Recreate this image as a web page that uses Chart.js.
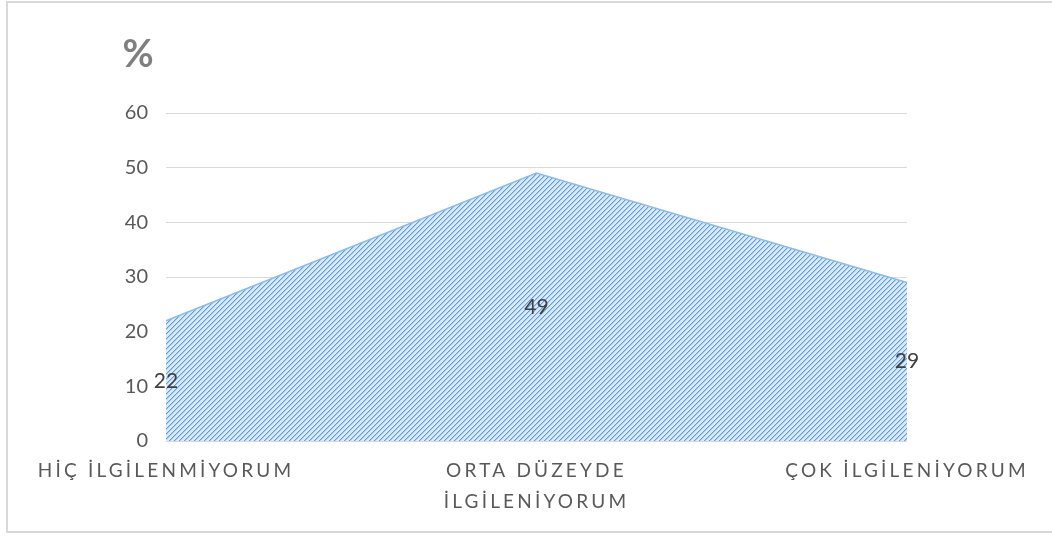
<!DOCTYPE html>
<html>
<head>
<meta charset="utf-8">
<script src="https://cdn.jsdelivr.net/npm/chart.js@4/dist/chart.umd.min.js"></script>
<style>
  html, body { margin: 0; padding: 0; width: 1052px; height: 536px; overflow: hidden; background: #ffffff; }
  #frame { position: absolute; left: 6px; top: 1px; width: 1070px; height: 532px; border: 2px solid #d9d9d9; box-sizing: border-box; background: #fff; }
  #wrap { position: absolute; left: 0; top: 0; width: 1052px; height: 536px; }
</style>
</head>
<body>
<div id="frame"></div>
<div id="wrap"><canvas id="c" width="1052" height="536"></canvas></div>
<script>
// ---- data ----
const categories = ["HİÇ İLGİLENMİYORUM", ["ORTA DÜZEYDE", "İLGİLENİYORUM"], "ÇOK İLGİLENİYORUM"];
const values = [22, 49, 29];
const yTicks = [0, 10, 20, 30, 40, 50, 60];
const axisTitle = "%";

// ---- category scale with letter spacing ----
class SpacedCategory extends Chart.CategoryScale {
  drawLabels(area) {
    const ctx = this.ctx;
    ctx.save();
    ctx.letterSpacing = '3.2px';
    super.drawLabels(area);
    ctx.restore();
  }
}
SpacedCategory.id = 'spacedCategory';
SpacedCategory.defaults = {};
Chart.register(SpacedCategory);

// ---- hatch pattern ----
function makePattern() {
  const s = 5;
  const c = document.createElement('canvas');
  c.width = s; c.height = s;
  const g = c.getContext('2d');
  g.fillStyle = '#d9e9f9';
  g.fillRect(0, 0, s, s);
  for (let i = 0; i < s; i++) {
    g.fillStyle = '#5d9ddf';
    g.fillRect(i, s - 1 - i, 1, 1);
    g.fillStyle = '#a8cbef';
    g.fillRect((i + 1) % s, s - 1 - i, 1, 1);
  }
  return g.createPattern(c, 'repeat');
}
const ctx = document.getElementById('c').getContext('2d');
const pattern = makePattern();

const FONT = "Lato, 'Open Sans', sans-serif";

const overlay = {
  id: 'overlay',
  afterDatasetsDraw(chart) {
    const { ctx, scales } = chart;
    const x = scales.x, y = scales.y;
    ctx.save();
    ctx.font = "21px " + FONT;
    ctx.fillStyle = '#404040';
    ctx.textAlign = 'center';
    ctx.textBaseline = 'middle';
    values.forEach((v, i) => {
      ctx.fillText(String(v), x.getPixelForValue(i), y.getPixelForValue(v / 2));
    });
    ctx.restore();
  },
  afterDraw(chart) {
    const { ctx, chartArea } = chart;
    ctx.save();
    ctx.font = "bold 38px " + FONT;
    ctx.fillStyle = '#7f7f7f';
    ctx.textAlign = 'center';
    ctx.textBaseline = 'middle';
    ctx.fillText(axisTitle, chartArea.left - 28, chartArea.top - 58);
    ctx.restore();
  }
};

new Chart(ctx, {
  type: 'line',
  data: {
    labels: categories,
    datasets: [{
      data: values,
      fill: 'origin',
      backgroundColor: pattern,
      borderColor: '#8dbbe8',
      borderWidth: 1.5,
      pointRadius: 0,
      tension: 0
    }]
  },
  options: {
    responsive: false,
    animation: false,
    events: [],
    layout: { padding: { left: 0, right: 145, top: 113, bottom: 0 } },
    plugins: { legend: { display: false }, tooltip: { enabled: false } },
    scales: {
      x: {
        type: 'spacedCategory',
        offset: false,
        grid: { display: false, drawTicks: false },
        border: { display: false },
        ticks: {
          color: '#595959',
          font: { family: FONT, size: 19, lineHeight: 1.6 },
          padding: 15,
          maxRotation: 0,
          minRotation: 0,
          autoSkip: false
        },
        afterFit(s) { s.height = 95; }
      },
      y: {
        min: 0, max: 60,
        afterBuildTicks(s) { s.ticks = yTicks.map(v => ({ value: v })); },
        grid: { color: '#d9d9d9', lineWidth: 1, drawTicks: false },
        border: { display: false },
        ticks: {
          color: '#595959',
          font: { family: FONT, size: 20 },
          padding: 18
        },
        afterFit(s) { s.width = 166; }
      }
    }
  },
  plugins: [overlay]
});
</script>
</body>
</html>
